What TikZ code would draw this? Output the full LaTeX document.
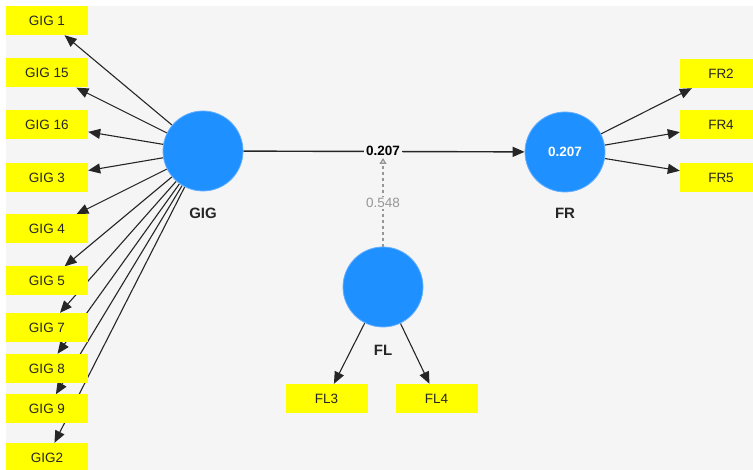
\documentclass[tikz,border=0pt]{standalone}
\usepackage{fontspec}
\setmainfont{Liberation Sans}
\usetikzlibrary{arrows.meta}
\definecolor{bg}{RGB}{245,245,245}
\definecolor{lvblue}{RGB}{30,144,255}
\definecolor{lvedge}{RGB}{100,175,255}
\definecolor{indyellow}{RGB}{255,255,0}
\definecolor{modgray}{RGB}{150,150,150}
\pgfdeclarelayer{back}
\pgfdeclarelayer{lines}
\pgfsetlayers{back,lines,main}
\begin{document}
\begin{tikzpicture}[x=1pt,y=-1pt,
  lv/.style={circle,fill=lvblue,draw=lvedge,line width=0.8pt,minimum size=80pt,inner sep=0pt,
    font=\fontsize{13.5}{16}\selectfont\bfseries,text=white},
  ind/.style={rectangle,fill=indyellow,minimum width=82pt,minimum height=29pt,inner sep=0pt,
    font=\fontsize{13.5}{16}\selectfont,text=black!85},
  lvlabel/.style={font=\fontsize{15}{18}\selectfont\bfseries,text=black!85},
  load/.style={-{Triangle[length=12pt,width=10pt]},line width=1.1pt,black!85},
]
\useasboundingbox (0,0) rectangle (753,470);
\clip (0,0) rectangle (753,470);
\begin{pgfonlayer}{back}
\fill[white] (0,0) rectangle (753,470);
\fill[bg] (6,6) rectangle (753,470);
\end{pgfonlayer}

% latent variables
\node[lv] (GIG) at (203,151) {};
\node[lv] (FR) at (565,152) {0.207};
\node[lv] (FL) at (383,287) {};
\node[lvlabel] (GIGl) at (203,213) {GIG};
\node[lvlabel] (FRl) at (565,213) {FR};
\node[lvlabel] (FLl) at (383,350) {FL};

% indicators
\node[ind] (g1)  at (47,20.5)  {GIG 1};
\node[ind] (g15) at (47,73)    {GIG 15};
\node[ind] (g16) at (47,125)   {GIG 16};
\node[ind] (g3)  at (47,177.5) {GIG 3};
\node[ind] (g4)  at (47,229)   {GIG 4};
\node[ind] (g5)  at (47,281)   {GIG 5};
\node[ind] (g7)  at (47,327.5) {GIG 7};
\node[ind] (g8)  at (47,368.5) {GIG 8};
\node[ind] (g9)  at (47,409)   {GIG 9};
\node[ind] (g2)  at (47,457.5) {GIG2};
\node[ind] (fr2) at (721,73.5) {FR2};
\node[ind] (fr4) at (721,125)  {FR4};
\node[ind] (fr5) at (721,177.5){FR5};
\node[ind] (fl3) at (326.5,398.5) {FL3};
\node[ind] (fl4) at (436.5,398.5) {FL4};

% path label
\node[font=\fontsize{13.5}{16}\selectfont\bfseries,fill=bg,inner sep=2pt] (p1) at (383,151) {0.207};
\node[font=\fontsize{13.5}{16}\selectfont,text=modgray,fill=bg,inner sep=1.5pt] (m1) at (383,203) {0.548};

\begin{pgfonlayer}{lines}
\foreach \t in {g1,g15,g16,g3,g4,g5,g7,g8,g9,g2}
  \draw[load] (GIG) -- (\t);
\foreach \t in {fr2,fr4,fr5}
  \draw[load] (FR) -- (\t);
\draw[load] (FL) -- (fl3);
\draw[load] (FL) -- (fl4);
\draw[load,line width=1.4pt] (GIG) -- (FR);
\draw[modgray,line width=1.3pt,dash pattern=on 3pt off 3pt,
  -{Triangle[open,length=6pt,width=7pt]}] (FL) -- (p1.south);
\end{pgfonlayer}
\end{tikzpicture}
\end{document}
